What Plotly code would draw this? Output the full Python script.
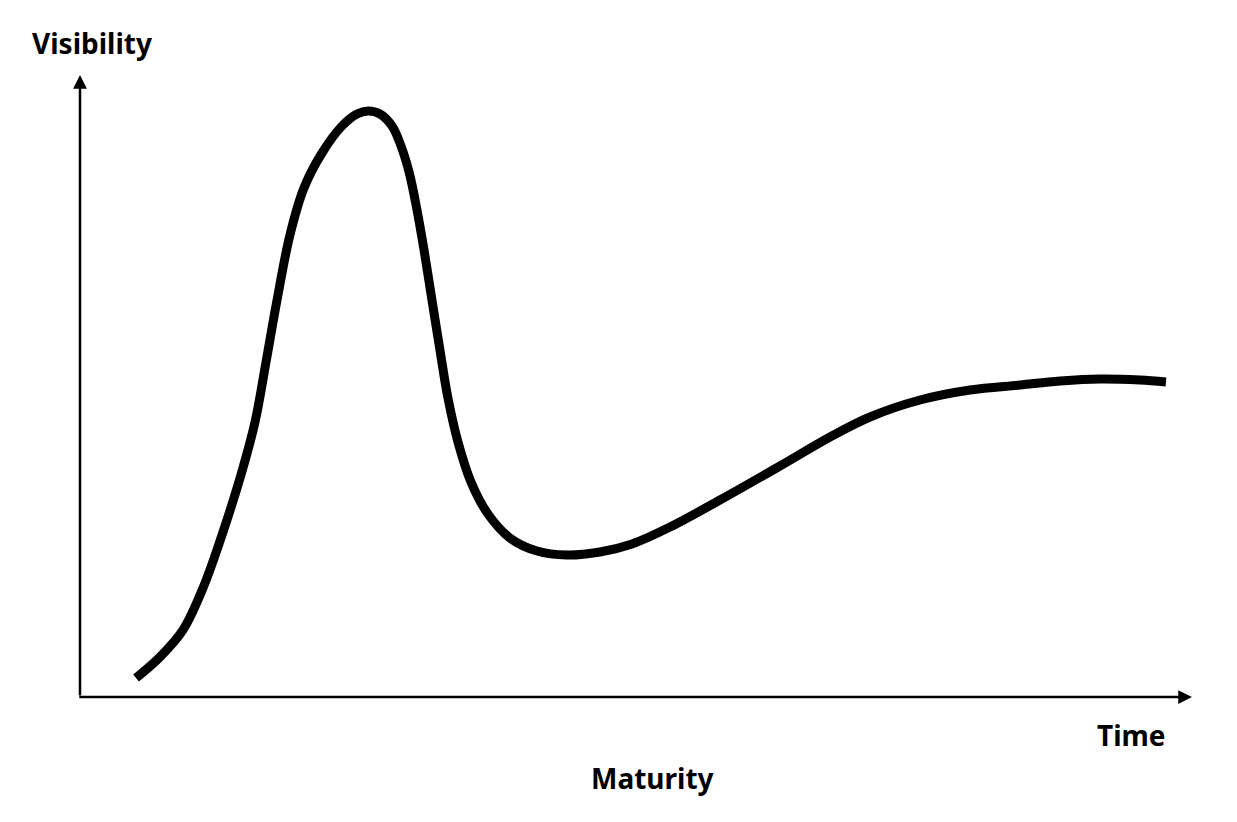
import plotly.graph_objects as go

# Hype-cycle curve (time in 0..100, visibility in 0..100)
time_vals = [5.04, 7.19, 9.26, 11.06, 12.77, 14.39, 15.74, 16.73, 17.72, 18.88,
             20.14, 21.76, 23.56, 24.91, 25.90, 26.98, 28.06, 28.87, 29.59, 30.22,
             30.94, 31.65, 32.37, 33.09, 33.99, 35.16, 36.69, 38.67, 41.10, 43.79,
             46.76, 49.64, 53.06, 57.55, 62.95, 67.45, 71.04, 75.54, 80.04, 84.53,
             88.13, 91.73, 95.32, 97.66]
visibility_vals = [3.05, 6.43, 10.77, 17.52, 26.05, 35.21, 44.21, 53.86, 63.83, 74.28,
                   81.83, 87.46, 91.80, 93.73, 94.21, 93.73, 91.80, 88.59, 84.41, 79.10,
                   71.86, 63.83, 55.79, 48.07, 41.00, 34.57, 29.42, 25.56, 23.47, 22.83,
                   23.31, 24.60, 27.33, 31.67, 37.14, 41.80, 45.02, 47.75, 49.36, 50.16,
                   50.80, 51.13, 50.96, 50.64]

y_label = "Visibility"
x_label = "Time"
bottom_label = "Maturity"

FONT = "Noto Sans"
FS = 28

fig = go.Figure()
fig.add_trace(go.Scatter(
    x=time_vals, y=visibility_vals, mode="lines",
    line=dict(color="black", width=9, shape="spline", smoothing=1.0),
    hoverinfo="skip", showlegend=False, cliponaxis=False,
))

# Axes with arrows
fig.add_annotation(x=100, y=0, ax=-0.2, ay=0, xref="x", yref="y", axref="x", ayref="y",
                   showarrow=True, arrowhead=2, arrowsize=1.1, arrowwidth=2.5,
                   arrowcolor="black", text="")
fig.add_annotation(x=0, y=100, ax=0, ay=0, xref="x", yref="y", axref="x", ayref="y",
                   showarrow=True, arrowhead=2, arrowsize=1.1, arrowwidth=2.5,
                   arrowcolor="black", text="")

# Label positions (page pixels; page has an 8px body offset)
OFF = 8
labels = [(y_label, 92, 43), (x_label, 1131, 735), (bottom_label, 652, 778)]

W, H = 1237, 822
L, T = 80 - OFF, 75 - OFF
R, B = W - (1192 - OFF), H - (697 - OFF)
pw, ph = W - L - R, H - T - B
for txt, px, py in labels:
    fig.add_annotation(x=(px - OFF - L) / pw, y=1 - (py - OFF - T) / ph,
                       xref="paper", yref="paper", xanchor="center", yanchor="middle",
                       text=f"<b>{txt}</b>", showarrow=False,
                       font=dict(family=FONT, size=FS, color="black"))

fig.update_layout(
    width=W, height=H,
    margin=dict(l=L, r=R, t=T, b=B, pad=0),
    paper_bgcolor="white", plot_bgcolor="white",
    xaxis=dict(range=[0, 100], visible=False, fixedrange=True),
    yaxis=dict(range=[0, 100], visible=False, fixedrange=True),
)

fig.write_html("out.html")
